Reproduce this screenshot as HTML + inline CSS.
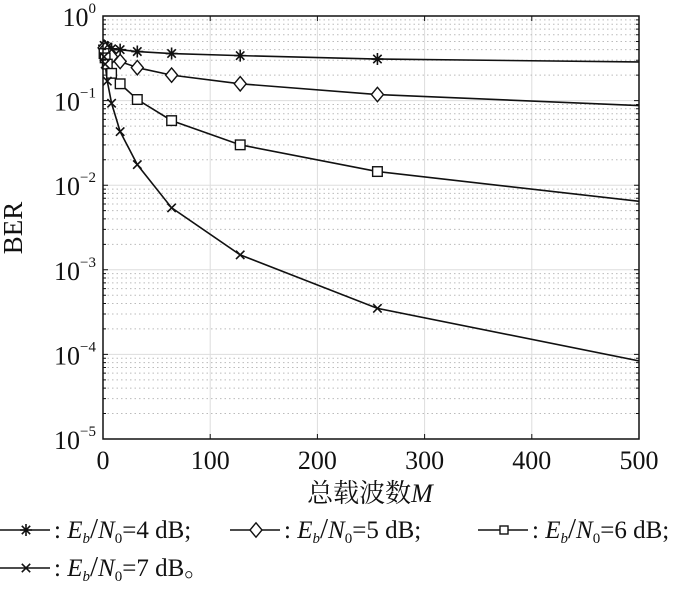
<!DOCTYPE html>
<html><head><meta charset="utf-8"><style>
body{margin:0;background:#fff;}
svg text{font-family:"Liberation Serif","Noto Serif CJK SC",serif;fill:#111;}
</style></head><body>
<svg width="700" height="589" viewBox="0 0 700 589" xmlns="http://www.w3.org/2000/svg">
<defs><clipPath id="pc"><rect x="103" y="16" width="536" height="423"/></clipPath></defs>
<g id="grid"></g>
<g id="series" clip-path="url(#pc)"></g>
<g id="markers"></g>
<rect x="103" y="16" width="536" height="423" fill="none" stroke="#111" stroke-width="1.5"/>
<g id="axes"></g>
<text x="22" y="228" font-size="27" text-anchor="middle" transform="rotate(-90 22 228)">BER</text>
<text x="370" y="502" font-size="26" text-anchor="middle">总载波数<tspan font-style="italic">M</tspan></text>
<g id="legend"></g>
</svg>
<script>
const mValues=[1,2,4,8,16,32,64,128,256,512];
const ber4=[0.45,0.44,0.43,0.41,0.40,0.38,0.36,0.34,0.31,0.285];
const ber5=[0.42,0.40,0.37,0.33,0.29,0.245,0.2,0.158,0.118,0.086];
const ber6=[0.36,0.32,0.27,0.21,0.158,0.103,0.058,0.030,0.0145,0.0062];
const ber7=[0.33,0.27,0.17,0.093,0.043,0.0175,0.0054,0.0015,0.00035,0.000078];
const xTicks=[0,100,200,300,400,500];
const yExps=[0,-1,-2,-3,-4,-5];
const seriesNames=["4","5","6","7"];
const NS="http://www.w3.org/2000/svg";
const X0=103,X1=639,Y0=16,Y1=439;
const xs=v=>X0+(v/500)*(X1-X0);
const ys=v=>Y0+(-Math.log10(v)/5)*(Y1-Y0);
function mk(tag,attrs,parent){const e=document.createElementNS(NS,tag);for(const k in attrs)e.setAttribute(k,attrs[k]);parent.appendChild(e);return e;}
const grid=document.getElementById('grid'),axes=document.getElementById('axes');
xTicks.forEach(t=>{
 const x=xs(t);
 if(t>0&&t<500){const l=mk('line',{x1:x,x2:x,y1:Y0,y2:Y1,stroke:'#ddd','stroke-width':1},grid);
 
 }
 const tk=mk('path',{d:`M${x} ${Y1}V${Y1-5}M${x} ${Y0}V${Y0+5}`,stroke:'#111'},axes);
 
 
 const tx=mk('text',{x:x,y:469,'font-size':26,'text-anchor':'middle'},axes);
 tx.textContent=t;
 
 
});
yExps.forEach(e=>{
 const y=ys(Math.pow(10,e));
 if(e<0&&e>-5){const l=mk('line',{x1:X0,x2:X1,y1:y,y2:y,stroke:'#ddd','stroke-width':1},grid);
 
 }
 if(e>-5){for(let k=2;k<=9;k++){const yy=ys(Math.pow(10,e-1)*k);
  const m=mk('line',{x1:X0,x2:X1,y1:yy,y2:yy,stroke:'#bbb','stroke-width':1,'stroke-dasharray':'1.5 3'},grid);
  
  
  const mt=mk('path',{d:`M${X0} ${yy}h3M${X1} ${yy}h-3`,stroke:'#111'},axes);
  
  }}
 const tk=mk('path',{d:`M${X0} ${y}h5M${X1} ${y}h-5`,stroke:'#111'},axes);
 
 
 const tx=mk('text',{x:96,y:y+10,'font-size':26,'text-anchor':'end'},axes);
 tx.innerHTML='10<tspan dy="-13" font-size="15">'+(e===0?'0':'\u2212'+(-e))+'</tspan>';
 
 
});
function marker(type,x,y,parent,s){
 let e;
 if(type==='star'){e=mk('path',{d:`M${x-s} ${y}H${x+s}M${x} ${y-s}V${y+s}M${x-s*.7} ${y-s*.7}L${x+s*.7} ${y+s*.7}M${x-s*.7} ${y+s*.7}L${x+s*.7} ${y-s*.7}`,stroke:'#111','stroke-width':1.6,fill:'none'},parent);}
 else if(type==='diamond'){e=mk('path',{d:`M${x} ${y-s*1.2}L${x+s} ${y}L${x} ${y+s*1.2}L${x-s} ${y}Z`,stroke:'#111','stroke-width':1.4,fill:'#fff'},parent);}
 else if(type==='square'){e=mk('rect',{x:x-s*.8,y:y-s*.8,width:s*1.6,height:s*1.6,stroke:'#111','stroke-width':1.4,fill:'#fff'},parent);}
 else {e=mk('path',{d:`M${x-s*.7} ${y-s*.7}L${x+s*.7} ${y+s*.7}M${x-s*.7} ${y+s*.7}L${x+s*.7} ${y-s*.7}`,stroke:'#111','stroke-width':1.6},parent);}
 return e;
}
const allSeries=[ber4,ber5,ber6,ber7];
const types=['star','diamond','square','x'];
const sg=document.getElementById('series'),mg=document.getElementById('markers');
allSeries.forEach((arr,i)=>{
 const p=mk('polyline',{points:arr.map((v,j)=>xs(mValues[j])+','+ys(v)).join(' '),fill:'none',stroke:'#111','stroke-width':1.6},sg);
 
 
 arr.forEach((v,j)=>{if(mValues[j]>500)return;
  const m=marker(types[i],xs(mValues[j]),ys(v),mg,6);
  
  });
});
const lg=document.getElementById('legend');
const legPos=[[0,538],[230,538],[478,538],[0,576]];
legPos.forEach((p,i)=>{
 const g=mk('g',{},lg);
 
 
 const y=p[1]-8;
 mk('line',{x1:p[0],x2:p[0]+50,y1:y,y2:y,stroke:'#111','stroke-width':1.6},g);
 marker(types[i],p[0]+26,y,g,i===2?5:6);
 const t=mk('text',{x:p[0]+54,y:p[1],'font-size':25},g);
 t.innerHTML=': <tspan font-style="italic">E</tspan><tspan font-style="italic" font-size="15" dy="5">b</tspan><tspan dy="-5" font-size="29">/</tspan><tspan font-style="italic">N</tspan><tspan font-size="15" dy="5">0</tspan><tspan dy="-5">='+seriesNames[i]+' dB'+(i===3?'。':';')+'</tspan>';
});
</script>
</body></html>
